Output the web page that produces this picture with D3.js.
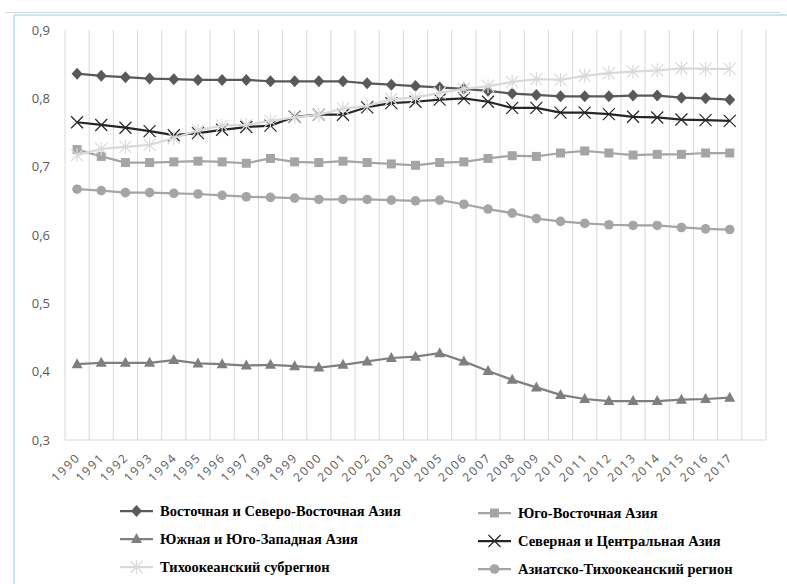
<!DOCTYPE html>
<html>
<head>
<meta charset="utf-8">
<script src="https://cdn.jsdelivr.net/npm/d3@7"></script>
<style>
  body { margin: 0; background: #fff; }
  svg { display: block; }
</style>
</head>
<body>
<div id="chart"></div>
<script>
////////////////////////////////////////////////////////////////////////
// Data

let years = ["1990", "1991", "1992", "1993", "1994", "1995", "1996", "1997", "1998", "1999",
             "2000", "2001", "2002", "2003", "2004", "2005", "2006", "2007", "2008", "2009",
             "2010", "2011", "2012", "2013", "2014", "2015", "2016", "2017"];

let yTicks = [0.3, 0.4, 0.5, 0.6, 0.7, 0.8, 0.9];

let eastNE = [0.836, 0.833, 0.831, 0.829, 0.828, 0.827, 0.827, 0.827, 0.825, 0.825,
              0.825, 0.825, 0.822, 0.820, 0.818, 0.816, 0.814, 0.811, 0.807, 0.805,
              0.803, 0.803, 0.803, 0.804, 0.804, 0.801, 0.800, 0.798];
let southEast = [0.725, 0.715, 0.706, 0.706, 0.707, 0.708, 0.707, 0.705, 0.712, 0.707,
                 0.706, 0.708, 0.706, 0.704, 0.702, 0.706, 0.707, 0.712, 0.716, 0.715,
                 0.720, 0.723, 0.720, 0.717, 0.718, 0.718, 0.720, 0.720];
let southSW = [0.411, 0.413, 0.413, 0.413, 0.417, 0.412, 0.411, 0.409, 0.410, 0.408,
               0.406, 0.410, 0.415, 0.420, 0.422, 0.427, 0.415, 0.401, 0.388, 0.377,
               0.366, 0.360, 0.357, 0.357, 0.357, 0.359, 0.360, 0.362];
let northCentral = [0.765, 0.761, 0.757, 0.752, 0.746, 0.749, 0.754, 0.758, 0.760, 0.773,
                    0.776, 0.776, 0.787, 0.793, 0.795, 0.798, 0.800, 0.795, 0.786, 0.786,
                    0.779, 0.779, 0.777, 0.773, 0.772, 0.769, 0.768, 0.767];
let pacific = [0.717, 0.726, 0.729, 0.732, 0.742, 0.753, 0.760, 0.761, 0.767, 0.772,
               0.776, 0.785, 0.789, 0.799, 0.801, 0.808, 0.814, 0.818, 0.824, 0.828,
               0.827, 0.833, 0.837, 0.839, 0.841, 0.844, 0.843, 0.843];
let asiaPacific = [0.667, 0.665, 0.662, 0.662, 0.661, 0.660, 0.658, 0.656, 0.655, 0.654,
                   0.652, 0.652, 0.652, 0.651, 0.650, 0.651, 0.645, 0.638, 0.632, 0.624,
                   0.620, 0.617, 0.615, 0.614, 0.614, 0.611, 0.609, 0.608];

let names = ["Восточная и Северо-Восточная Азия", "Юго-Восточная Азия",
             "Южная и Юго-Западная Азия", "Северная и Центральная Азия",
             "Тихоокеанский субрегион", "Азиатско-Тихоокеанский регион"];

// series table, in legend order
let series = [
  {name: names[0], values: eastNE, color: "#595959", marker: "diamond"},
  {name: names[1], values: southEast, color: "#a5a5a5", marker: "square"},
  {name: names[2], values: southSW, color: "#7f7f7f", marker: "triangle"},
  {name: names[3], values: northCentral, color: "#262626", marker: "x"},
  {name: names[4], values: pacific, color: "#d9d9d9", marker: "star"},
  {name: names[5], values: asiaPacific, color: "#a5a5a5", marker: "circle"}
];

////////////////////////////////////////////////////////////////////////
// Layout

let width = 787;
let height = 584;
let margin = ({top: 30, right: 21, bottom: 144, left: 65});

let svg = d3.select("#chart")
  .append("svg")
  .attr("width", width).attr("height", height);

// outer frame lines (gray top, light-blue border)
svg.append("line")
  .attr("x1", 6).attr("x2", 780).attr("y1", 12.5).attr("y2", 12.5)
  .attr("stroke", "#d4d4d4").attr("stroke-width", 1);
svg.append("line")
  .attr("x1", 14).attr("x2", width).attr("y1", 15).attr("y2", 15)
  .attr("stroke", "#b4e0ee").attr("stroke-width", 1.5);
svg.append("line")
  .attr("x1", 14).attr("x2", 14).attr("y1", 15).attr("y2", height)
  .attr("stroke", "#b4e0ee").attr("stroke-width", 1.5);

// one extra empty band at the right, like the original
let bands = years.concat([""]);

let xScale = d3.scaleBand()
  .domain(bands)
  .range([margin.left, width - margin.right]);

let yScale = d3.scaleLinear()
  .domain([0.3, 0.9])
  .range([height - margin.bottom, margin.top]);

let plotBottom = height - margin.bottom;

// vertical gridlines on the band edges
let edges = bands.map(b => xScale(b)).concat([width - margin.right]);
svg.append("g")
  .selectAll("line")
  .data(edges).enter()
  .append("line")
  .attr("x1", d => d).attr("x2", d => d)
  .attr("y1", margin.top).attr("y2", plotBottom)
  .attr("stroke", "#d9d9d9").attr("stroke-width", 1);

// baseline
svg.append("line")
  .attr("x1", margin.left).attr("x2", width - margin.right)
  .attr("y1", plotBottom).attr("y2", plotBottom)
  .attr("stroke", "#d9d9d9").attr("stroke-width", 1);

// y axis labels
let yAxis = d3.axisLeft(yScale)
  .tickValues(yTicks)
  .tickSize(0)
  .tickPadding(15)
  .tickFormat(d => d3.format(".1f")(d).replace(".", ","));

svg.append("g")
  .attr("transform", `translate(${margin.left},0)`)
  .call(yAxis)
  .call(g => g.select(".domain").remove())
  .selectAll("text")
  .attr("fill", "#595959")
  .style("font-family", "'Open Sans', sans-serif")
  .style("font-size", "13px");

// x axis labels, rotated
let xAxis = d3.axisBottom(xScale)
  .tickValues(years)
  .tickSize(0)
  .tickPadding(0);

svg.append("g")
  .attr("transform", `translate(0,${plotBottom})`)
  .call(xAxis)
  .call(g => g.select(".domain").remove())
  .selectAll("text")
  .attr("fill", "#595959")
  .attr("text-anchor", "end")
  .attr("dy", "0")
  .attr("transform", "translate(4,18) rotate(-45)")
  .style("font-family", "'Open Sans', sans-serif")
  .style("font-size", "12px")
  .style("letter-spacing", "1.8px");

////////////////////////////////////////////////////////////////////////
// Markers

function drawMarker(g, type, color, x, y) {
  if (type == "diamond") {
    g.append("path")
      .attr("d", `M${x},${y - 6}L${x + 5.5},${y}L${x},${y + 6}L${x - 5.5},${y}Z`)
      .attr("fill", color);
  }
  else if (type == "square") {
    g.append("rect")
      .attr("x", x - 4.5).attr("y", y - 4.5)
      .attr("width", 9).attr("height", 9)
      .attr("fill", color);
  }
  else if (type == "triangle") {
    g.append("path")
      .attr("d", `M${x},${y - 6}L${x + 5.5},${y + 4}L${x - 5.5},${y + 4}Z`)
      .attr("fill", color);
  }
  else if (type == "circle") {
    g.append("circle")
      .attr("cx", x).attr("cy", y).attr("r", 4.8)
      .attr("fill", color);
  }
  else if (type == "x") {
    g.append("path")
      .attr("d", `M${x - 6},${y - 6}L${x + 6},${y + 6}M${x - 6},${y + 6}L${x + 6},${y - 6}`)
      .attr("stroke", color).attr("stroke-width", 1.2).attr("fill", "none");
  }
  else if (type == "star") {
    g.append("path")
      .attr("d", `M${x - 6},${y - 6}L${x + 6},${y + 6}M${x - 6},${y + 6}L${x + 6},${y - 6}M${x},${y - 7}L${x},${y + 7}`)
      .attr("stroke", color).attr("stroke-width", 1.2).attr("fill", "none");
  }
}

////////////////////////////////////////////////////////////////////////
// Lines

let line = d3.line()
  .x((d, i) => xScale(years[i]) + xScale.bandwidth() / 2)
  .y(d => yScale(d));

series.forEach(function (s) {
  let g = svg.append("g");
  g.append("path")
    .datum(s.values)
    .attr("d", line)
    .attr("fill", "none")
    .attr("stroke", s.color)
    .attr("stroke-width", 2.25)
    .attr("stroke-linejoin", "round");
  s.values.forEach(function (v, i) {
    drawMarker(g, s.marker, s.color, xScale(years[i]) + xScale.bandwidth() / 2, yScale(v));
  });
});

////////////////////////////////////////////////////////////////////////
// Legend (two columns, three rows)

let legendCols = [{lineX: 120, textX: 160}, {lineX: 478, textX: 518}];
let legendRows = [511, 539, 567];

series.forEach(function (s, i) {
  let col = legendCols[i % 2];
  let y = legendRows[Math.floor(i / 2)] + (i % 2) * 2;
  let g = svg.append("g");
  g.append("line")
    .attr("x1", col.lineX).attr("x2", col.lineX + 33)
    .attr("y1", y).attr("y2", y)
    .attr("stroke", s.color).attr("stroke-width", 2.25);
  drawMarker(g, s.marker, s.color, col.lineX + 16.5, y);
  g.append("text")
    .attr("x", col.textX).attr("y", y)
    .attr("dy", "0.35em")
    .attr("fill", "#000")
    .style("font-family", "'Liberation Serif', 'Times New Roman', serif")
    .style("font-weight", "bold")
    .style("font-size", "14.5px")
    .text(s.name);
});
</script>
</body>
</html>
